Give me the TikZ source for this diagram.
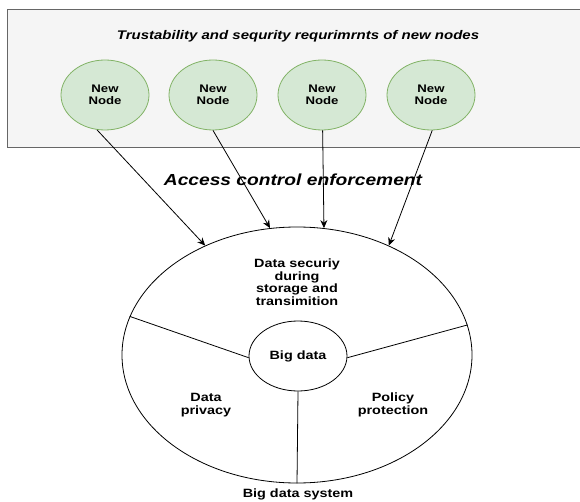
\documentclass[tikz,border=0pt]{standalone}
\usepackage{fontspec}
\setmainfont{Liberation Sans}[FakeStretch=1.2]
\usetikzlibrary{shapes.geometric,arrows.meta}
\definecolor{panelfill}{HTML}{F5F5F5}
\definecolor{panelline}{HTML}{666666}
\definecolor{nodefill}{HTML}{D5E8D4}
\definecolor{nodeline}{HTML}{82B366}
\begin{document}
\begin{tikzpicture}[x=1pt,y=1pt]
\tikzstyle{every node}+=[inner sep=0pt, align=center, font=\fontsize{12}{12.5}\selectfont\bfseries]
\tikzstyle{newnode}=[ellipse, draw=nodeline, fill=nodefill, line width=0.8pt, minimum width=88pt, minimum height=70pt, font=\fontsize{11}{12}\selectfont\bfseries]
\tikzstyle{ring}=[ellipse, draw, line width=0.8pt]
\tikzstyle{link}=[line width=0.8pt, -{Stealth[length=8pt,width=7pt]}]
\useasboundingbox (0,0) rectangle (580,-502);
\clip (0,0) rectangle (580,-502);
% panel with the new nodes
\node (panel) [draw=panelline, fill=panelfill, line width=0.8pt, anchor=north west, minimum width=580pt, minimum height=138pt] at (7,-9) {};
\node (title) at (298,-36) {\fontsize{12.5}{13}\selectfont\bfseries\itshape Trustability and sequrity requrimrnts of new nodes};
\node (n1) [newnode] at (105,-95) {New\\Node};
\node (n2) [newnode] at (213,-95) {New\\Node};
\node (n3) [newnode] at (322,-95) {New\\Node};
\node (n4) [newnode] at (431,-95) {New\\Node};
% big data system
\node (access) at (293,-180) {\fontsize{16}{18}\selectfont\bfseries\itshape Access control enforcement};
\node (system) [ring, minimum width=350pt, minimum height=256pt] at (297,-355) {};
\node (core) [ring, minimum width=98pt, minimum height=70pt] at (298,-356) {Big data};
\node (security) at (297,-282) {Data securiy\\during\\storage and\\transimition};
\node (privacy) at (206,-405) {Data\\privacy};
\node (policy) at (393,-405) {Policy\\protection};
\node (label) at (298,-494) {Big data system};
% sectors
\draw [line width=0.8pt] (core.182) -- (system.167);
\draw [line width=0.8pt] (core.358) -- (system.10.6);
\draw [line width=0.8pt] (core.south) -- (system.south);
% arrows
\draw [link] (n1.257) -- (system.130.5);
\draw [link] (n2.270) -- (system.102.8);
\draw [link] (n3.271) -- (system.78);
\draw [link] (n4.272) -- (system.50.6);
\end{tikzpicture}
\end{document}
